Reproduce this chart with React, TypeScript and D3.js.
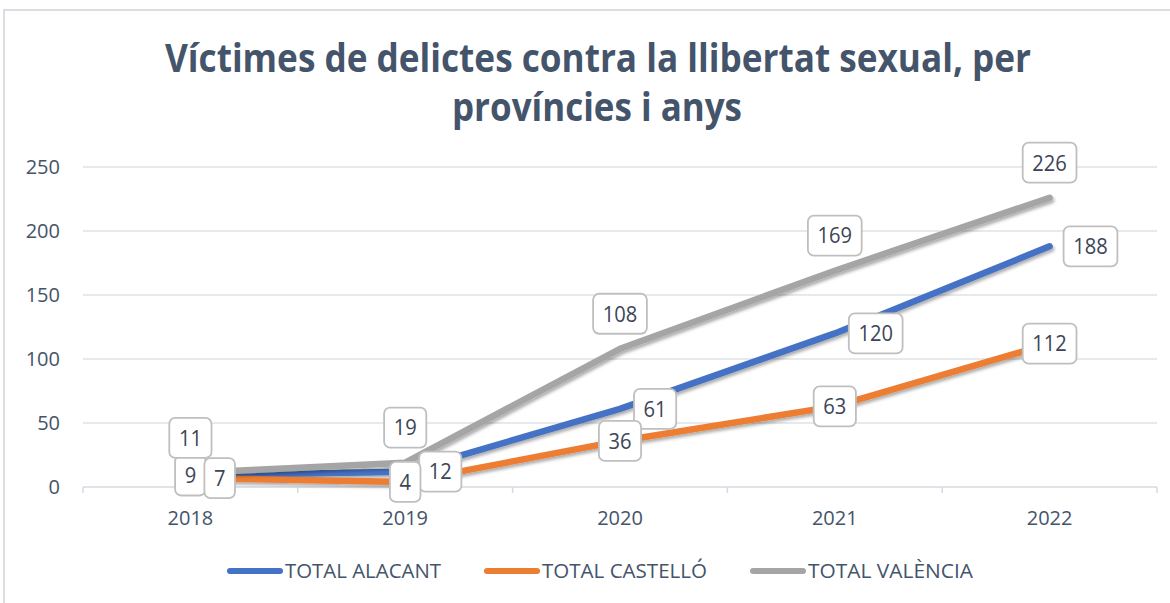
import React from "react";
import * as d3 from "d3";

const years = ["2018", "2019", "2020", "2021", "2022"];
const alacant = [9, 12, 61, 120, 188];
const castello = [7, 4, 36, 63, 112];
const valencia = [11, 19, 108, 169, 226];
const yTicks = [0, 50, 100, 150, 200, 250];
const seriesNames = ["TOTAL ALACANT", "TOTAL CASTELLÓ", "TOTAL VALÈNCIA"];
const seriesColors = ["#4472C4", "#ED7D31", "#A5A5A5"];
const alacantLabelPos = ["center", "right", "right", "right", "right"];
const castelloLabelPos = ["right", "center", "center", "center", "center"];
const valenciaLabelPos = ["above", "above", "above", "above", "above"];
const titleLines = ["Víctimes de delictes contra la llibertat sexual, per", "províncies i anys"];

const W = 1170;
const H = 603;
const TXT = "#44546A";
const FONT = "'Open Sans', 'Noto Sans', sans-serif";

export default function App() {
  const x = d3.scaleBand<string>().domain(years).range([83, 1157]).padding(0);
  const y = d3.scaleLinear().domain([0, 250]).range([487, 167]);
  const cx = (i: number) => (x(years[i]) as number) + x.bandwidth() / 2;

  const series = [
    { name: seriesNames[0], values: alacant, color: seriesColors[0], pos: alacantLabelPos },
    { name: seriesNames[1], values: castello, color: seriesColors[1], pos: castelloLabelPos },
    { name: seriesNames[2], values: valencia, color: seriesColors[2], pos: valenciaLabelPos },
  ];

  const line = d3
    .line<number>()
    .x((_, i) => cx(i))
    .y((d) => y(d));

  const labelW = (s: string) => s.length * 11.6 + 19;

  const labels: React.ReactNode[] = [];
  series.forEach((s, si) => {
    s.values.forEach((v, i) => {
      const t = String(v);
      const w = labelW(t);
      let lx = cx(i);
      let ly = y(v);
      if (s.pos[i] === "right") lx = cx(i) + 14 + w / 2;
      if (s.pos[i] === "above") ly = y(v) - 35;
      labels.push(
        <g key={`l-${si}-${i}`}>
          <rect
            x={lx - w / 2}
            y={ly - 20}
            width={w}
            height={40}
            rx={6}
            fill="#FFFFFF"
            stroke="#BFBFBF"
            strokeWidth={1.8}
          />
          <text
            x={lx}
            y={ly + 7.8}
            textAnchor="middle"
            fontSize={21}
            fill="#3B4556"
            fontFamily={FONT}
            textLength={t.length * 11.5}
            lengthAdjust="spacingAndGlyphs"
          >
            {t}
          </text>
        </g>
      );
    });
  });

  const legendTextW = [156, 165, 165];
  let lxPos = 227;
  const legendItems = series.map((s, i) => {
    const sx = lxPos;
    const tx = sx + 58;
    lxPos = tx + legendTextW[i] + 43;
    return (
      <g key={`leg-${i}`}>
        <line x1={sx + 3} x2={sx + 53} y1={571} y2={571} stroke={s.color} strokeWidth={6} strokeLinecap="round" />
        <text
          x={tx}
          y={578}
          fontSize={20}
          fill={TXT}
          fontFamily={FONT}
          textLength={legendTextW[i]}
          lengthAdjust="spacingAndGlyphs"
        >
          {s.name}
        </text>
      </g>
    );
  });

  return (
    <svg
      width={W}
      height={H}
      style={{ position: "absolute", left: 0, top: 0, background: "#FFFFFF" }}
      xmlns="http://www.w3.org/2000/svg"
    >
      <defs>
        <filter id="shadow" x="-10%" y="-10%" width="120%" height="130%">
          <feDropShadow dx={1.5} dy={2.5} stdDeviation={1.5} floodColor="#000" floodOpacity={0.32} />
        </filter>
      </defs>
      <rect x={0} y={0} width={W} height={H} fill="#FFFFFF" />
      <rect x={4} y={10} width={W + 20} height={H + 20} fill="none" stroke="#DADDE2" strokeWidth={2} />

      {/* title */}
      <text
        x={598}
        y={72}
        textAnchor="middle"
        fontSize={39}
        fontWeight={700}
        fill={TXT}
        fontFamily={FONT}
        textLength={866}
        lengthAdjust="spacingAndGlyphs"
      >
        {titleLines[0]}
      </text>
      <text
        x={597}
        y={121}
        textAnchor="middle"
        fontSize={39}
        fontWeight={700}
        fill={TXT}
        fontFamily={FONT}
        textLength={290}
        lengthAdjust="spacingAndGlyphs"
      >
        {titleLines[1]}
      </text>

      {/* gridlines */}
      {yTicks.map((t) => (
        <g key={`g-${t}`}>
          {t !== 0 && <line x1={83} x2={1157} y1={y(t)} y2={y(t)} stroke="#DEE2E7" strokeWidth={1.5} />}
          <text x={60} y={y(t) + 7} textAnchor="end" fontSize={20} fill={TXT} fontFamily={FONT}>
            {t}
          </text>
        </g>
      ))}
      {/* x axis */}
      <line x1={83} x2={1157} y1={y(0)} y2={y(0)} stroke="#D6DAE0" strokeWidth={1.5} />
      {years.map((yr) => (
        <line
          key={`tk-${yr}`}
          x1={x(yr) as number}
          x2={x(yr) as number}
          y1={y(0)}
          y2={y(0) + 6}
          stroke="#D6DAE0"
          strokeWidth={1.5}
        />
      ))}
      <line x1={1157} x2={1157} y1={y(0)} y2={y(0) + 6} stroke="#D6DAE0" strokeWidth={1.5} />
      {years.map((yr, i) => (
        <text key={`xl-${yr}`} x={cx(i)} y={525} textAnchor="middle" fontSize={20} fill={TXT} fontFamily={FONT}>
          {yr}
        </text>
      ))}

      {/* lines */}
      {series.map((s, i) => (
        <path
          key={`p-${i}`}
          d={line(s.values) as string}
          fill="none"
          stroke={s.color}
          strokeWidth={6.5}
          strokeLinecap="round"
          strokeLinejoin="round"
          filter="url(#shadow)"
        />
      ))}

      {labels}
      {legendItems}
    </svg>
  );
}
